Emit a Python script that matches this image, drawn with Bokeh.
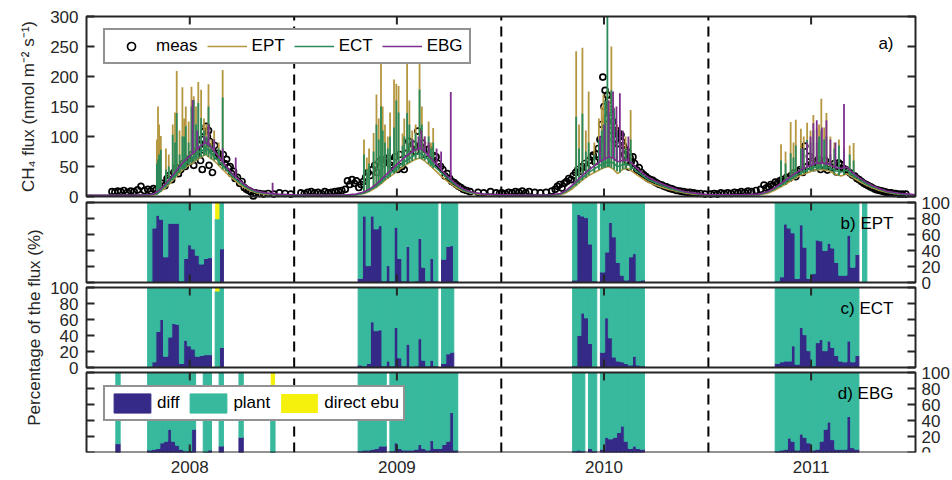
from math import pi
from bokeh.plotting import figure
from bokeh.models import (Range1d, LinearAxis, FixedTicker, Legend, LegendItem,
                          Label, BoxAnnotation, ColumnDataSource)
from bokeh.core.properties import value
from bokeh.embed import file_html
from bokeh.resources import INLINE

# ---------------- data (x = days since 2008-01-01) ----------------
year_ticks = [182, 547, 912, 1277]
year_labels = ["2008", "2009", "2010", "2011"]
year_breaks = [366, 731, 1096]
flux_ticks = [0, 50, 100, 150, 200, 250, 300]
pct_ticks = [0, 20, 40, 60, 80, 100]

# measured flux
meas_day_2008 = [45, 50, 55, 60, 66, 72, 78, 84, 90, 96, 102, 108, 113, 118, 123, 128, 133, 138, 142, 146,
                 150, 154, 158, 162, 166, 170, 174, 178, 182, 186, 189, 192, 195, 198, 201, 203, 204, 205, 207, 209,
                 211, 213, 215, 216, 217, 220, 222, 223, 226, 229, 232, 235, 238, 241, 244, 247, 250, 253, 256, 259,
                 262, 266, 270, 274, 278, 282, 286, 290, 294, 298, 305, 312, 320, 330, 340, 350, 360]
meas_val_2008 = [8, 7, 9, 8, 10, 7, 9, 8, 11, 17, 10, 12, 9, 13, 11, 15, 22, 18, 30, 35,
                 28, 40, 48, 38, 45, 55, 50, 62, 58, 70, 52, 75, 68, 85, 60, 95, 45, 78, 108, 88,
                 117, 100, 110, 52, 92, 80, 40, 75, 85, 68, 72, 65, 58, 70, 55, 62, 48, 50, 38, 42,
                 30, 32, 22, 25, 15, 12, 10, 8, 1, 6, 5, 4, 5, 4, 6, 5, 4]
meas_day_2009 = [378, 384, 390, 396, 402, 408, 414, 420, 426, 432, 438, 444, 450, 456, 460, 464, 468, 472, 476, 480,
                 484, 488, 492, 496, 500, 504, 508, 512, 516, 520, 524, 528, 532, 536, 540, 544, 548, 552, 556, 560,
                 564, 568, 572, 576, 580, 584, 588, 592, 596, 600, 604, 608, 612, 616, 620, 624, 628, 632, 636, 640,
                 644, 648, 652, 656, 660, 664, 670, 676, 690, 700, 712, 722, 728]
meas_val_2009 = [6, 5, 7, 8, 6, 7, 5, 8, 6, 7, 8, 9, 10, 12, 26, 20, 28, 22, 26, 15,
                 20, 25, 32, 40, 35, 45, 52, 40, 58, 62, 55, 60, 64, 52, 48, 66, 45, 70, 50, 45,
                 72, 92, 80, 87, 75, 109, 85, 89, 70, 78, 79, 62, 68, 66, 55, 50, 45, 34, 38, 30,
                 25, 23, 20, 17, 15, 12, 10, 8, 7, 6, 8, 6, 5]
meas_day_2010 = [732, 738, 744, 750, 756, 762, 768, 774, 780, 790, 800, 810, 820, 826, 830, 834, 838, 842, 846, 850,
                 854, 858, 862, 866, 870, 874, 878, 882, 886, 890, 893, 896, 899, 902, 905, 908, 910, 912, 914, 916,
                 918, 920, 922, 924, 926, 928, 930, 932, 934, 936, 938, 940, 942, 944, 946, 948, 950, 952, 954, 956,
                 958, 960, 963, 966, 970, 974, 978, 982, 986, 990, 994, 998, 1002, 1006, 1010, 1014, 1018, 1022, 1026, 1030,
                 1034, 1040, 1046, 1052, 1058, 1064, 1070, 1076, 1082, 1090]
meas_val_2010 = [6, 5, 7, 6, 8, 7, 9, 6, 8, 7, 6, 7, 9, 12, 17, 20, 14, 22, 25, 30,
                 28, 35, 40, 45, 42, 50, 55, 48, 60, 66, 69, 58, 70, 80, 95, 120, 199, 150, 177, 130,
                 169, 160, 140, 145, 110, 125, 95, 107, 110, 88, 105, 100, 103, 91, 85, 70, 78, 60, 74, 49,
                 65, 58, 66, 55, 44, 48, 40, 36, 33, 30, 28, 27, 24, 22, 20, 19, 17, 16, 14, 13,
                 12, 10, 9, 8, 7, 7, 6, 5, 5, 4]
meas_day_2011 = [1100, 1106, 1112, 1118, 1124, 1130, 1136, 1142, 1148, 1154, 1160, 1166, 1172, 1180, 1188, 1194, 1198, 1202, 1206, 1210,
                 1214, 1218, 1222, 1226, 1230, 1234, 1238, 1242, 1246, 1250, 1254, 1258, 1262, 1266, 1270, 1274, 1278, 1282, 1286, 1290,
                 1294, 1298, 1302, 1306, 1310, 1314, 1318, 1322, 1326, 1330, 1334, 1338, 1342, 1346, 1350, 1354, 1358, 1362, 1366, 1370,
                 1374, 1378, 1382, 1386, 1390, 1394, 1398, 1402, 1406, 1410, 1414, 1418, 1422, 1426, 1432, 1438, 1444]
meas_val_2011 = [4, 5, 4, 6, 5, 6, 5, 7, 6, 8, 7, 9, 8, 10, 12, 19, 14, 16, 20, 18,
                 24, 22, 26, 28, 25, 32, 30, 35, 39, 33, 42, 45, 40, 84, 50, 67, 55, 48, 58, 62,
                 45, 52, 60, 44, 50, 48, 55, 41, 56, 53, 47, 45, 42, 39, 36, 34, 30, 28, 25, 22,
                 20, 18, 16, 14, 12, 11, 10, 9, 8, 7, 6, 6, 5, 5, 4, 4, 4]

# modelled flux, smooth part (shared day grid)
base_day = [0, 40, 80, 110, 120, 130, 140, 150, 160, 170, 180, 190, 200, 210, 215, 222, 230, 240, 250, 260, 270, 280, 290, 300, 315, 335, 366,
            420, 460, 475, 490, 500, 510, 520, 530, 540, 550, 560, 570, 580, 588, 595, 605, 615, 625, 635, 645, 655, 665, 680, 700, 731,
            780, 820, 835, 845, 855, 865, 875, 885, 895, 905, 912, 920, 928, 936, 945, 953, 960, 970, 980, 990, 1000, 1012, 1025, 1040, 1055, 1070, 1085, 1100,
            1150, 1185, 1200, 1212, 1224, 1236, 1248, 1260, 1272, 1284, 1296, 1308, 1320, 1330, 1340, 1350, 1362, 1374, 1386, 1398, 1410, 1422, 1435, 1450, 1461]
ept_base = [1, 1, 1, 2, 3, 8, 15, 25, 35, 45, 52, 58, 65, 70, 66, 62, 55, 45, 36, 28, 20, 14, 9, 6, 4, 3, 2,
            1, 2, 3, 5, 9, 15, 22, 30, 37, 44, 51, 57, 62, 64, 60, 52, 43, 34, 26, 19, 13, 9, 5, 3, 2,
            1, 2, 3, 6, 12, 20, 28, 35, 40, 45, 48, 50, 46, 38, 45, 47, 43, 36, 30, 24, 20, 16, 12, 9, 6, 4, 3, 2,
            2, 3, 5, 10, 16, 23, 30, 36, 40, 44, 45, 43, 37, 34, 38, 32, 25, 19, 14, 10, 7, 5, 4, 3, 2]
ect_base = [2, 2, 2, 3, 4, 10, 19, 29, 40, 51, 59, 66, 75, 80, 77, 71, 62, 52, 41, 31, 23, 16, 11, 7, 5, 3, 2,
            2, 2, 3, 6, 11, 17, 26, 34, 42, 50, 58, 64, 70, 72, 68, 59, 49, 40, 31, 23, 16, 10, 6, 4, 2,
            2, 2, 4, 8, 15, 24, 32, 40, 46, 52, 55, 58, 56, 50, 53, 54, 50, 42, 35, 28, 24, 19, 14, 10, 7, 5, 3, 2,
            2, 3, 7, 12, 19, 27, 34, 40, 45, 49, 50, 48, 43, 41, 44, 36, 28, 21, 16, 12, 8, 6, 4, 3, 2]
ebg_base = [2, 2, 2, 3, 5, 12, 22, 33, 45, 57, 66, 74, 84, 90, 86, 80, 70, 58, 46, 35, 27, 19, 13, 9, 6, 4, 3,
            2, 3, 4, 8, 13, 20, 29, 38, 47, 56, 65, 72, 78, 80, 76, 66, 55, 45, 35, 26, 18, 12, 7, 4, 3,
            2, 3, 5, 10, 18, 27, 36, 44, 51, 58, 62, 66, 64, 58, 60, 61, 56, 47, 39, 32, 27, 22, 17, 12, 8, 6, 4, 3,
            3, 4, 8, 14, 22, 30, 38, 45, 50, 55, 56, 54, 48, 47, 49, 40, 31, 24, 18, 13, 9, 7, 5, 4, 3]

# modelled flux, daily peaks (EPT and ECT share dates); spk_lo = level the peak rises from
spk_day = [124, 126, 128, 131, 140, 145, 152, 156, 159, 164, 169, 172, 175, 180, 185, 189, 193, 197, 202, 207, 211, 215, 220, 225, 233, 240,
           489, 494, 498, 506, 511, 515, 519, 522, 526, 531, 535, 542, 546, 550, 557, 560, 565, 569, 574, 580, 587, 591, 596, 603, 607, 611,
           863, 868, 874, 880, 885, 895, 903, 908, 911, 914, 918, 921, 925, 930, 935, 940, 945, 950, 959,
           1224, 1232, 1241, 1246, 1250, 1259, 1264, 1270, 1276, 1281, 1287, 1291, 1295, 1300, 1304, 1311, 1318, 1326, 1335, 1345, 1352]
spk_lo = [3, 4, 6, 8, 15, 20, 27, 31, 34, 40, 44, 46, 48, 52, 55, 58, 60, 63, 66, 68, 69, 66, 62, 60, 52, 45,
          5, 7, 8, 13, 15, 18, 21, 24, 27, 30, 33, 38, 41, 44, 49, 51, 54, 56, 59, 62, 63, 62, 60, 54, 51, 47,
          18, 22, 27, 31, 35, 40, 44, 46, 48, 48, 49, 49, 48, 45, 42, 40, 45, 46, 44,
          16, 20, 26, 29, 31, 36, 38, 40, 42, 43, 44, 45, 45, 45, 44, 42, 38, 35, 36, 35, 31]
ept_spk = [95, 150, 120, 101, 80, 70, 120, 140, 209, 110, 182, 130, 150, 125, 183, 167, 150, 191, 178, 130, 120, 187, 95, 110, 90, 211,
           95, 65, 80, 106, 170, 130, 225, 150, 120, 100, 140, 195, 188, 184, 105, 130, 222, 160, 110, 120, 225, 150, 100, 125, 90, 114,
           242, 120, 248, 110, 175, 90, 130, 150, 170, 130, 180, 160, 250, 140, 120, 110, 90, 100, 144,
           87, 75, 124, 90, 128, 113, 100, 123, 110, 136, 113, 120, 163, 115, 139, 100, 90, 95, 80, 85, 89]
ect_spk = [55, 62, 70, 78, 45, 50, 103, 90, 139, 70, 100, 100, 117, 90, 150, 161, 120, 156, 131, 110, 100, 150, 85, 95, 80, 165,
           70, 45, 55, 75, 120, 95, 150, 110, 90, 80, 100, 115, 160, 140, 85, 100, 139, 120, 95, 105, 178, 120, 85, 100, 80, 90,
           133, 80, 138, 75, 90, 70, 95, 110, 120, 160, 300, 140, 177, 145, 110, 100, 80, 80, 95,
           60, 55, 72, 65, 85, 80, 80, 94, 90, 110, 90, 100, 110, 95, 100, 70, 80, 85, 75, 70, 60]
ebg_spk_day = [187, 195, 208, 215, 225, 240, 263, 328,
               575, 585, 590, 596, 603, 617, 625, 642,
               905, 913, 920, 928, 934, 940, 945, 955,
               1262, 1270, 1276, 1281, 1287, 1296, 1304, 1311, 1320, 1335]
ebg_spk_lo = [72, 80, 89, 86, 78, 58, 33, 4,
              74, 78, 79, 75, 69, 53, 45, 29,
              58, 62, 66, 64, 59, 58, 60, 60,
              46, 50, 52, 54, 55, 56, 55, 53, 48, 48]
ebg_spk = [161, 110, 100, 120, 95, 80, 65, 23,
           95, 100, 110, 100, 90, 80, 75, 174,
           100, 120, 160, 175, 150, 172, 110, 100,
           80, 90, 100, 122, 127, 115, 127, 95, 90, 154]

# weekly flux partitioning (%), week n spans days 3+7n .. 10+7n
ept_week = [15, 16, 17, 18, 19, 20, 21, 22, 23, 24, 25, 26, 27, 28, 29, 30, 32, 33,
            68, 69, 70, 71, 72, 73, 74, 75, 76, 77, 78, 79, 80, 81, 82, 83, 84, 85, 86, 87, 89, 90, 91, 92,
            122, 123, 124, 125, 126, 127, 129, 130, 131, 132, 133, 134, 135, 136, 137, 138, 139,
            173, 174, 175, 176, 177, 178, 179, 180, 181, 182, 183, 184, 185, 186, 187, 188, 189, 190, 191, 192, 193, 195]
ept_diff = [0, 68, 84, 79, 32, 74, 74, 74, 2, 30, 47, 42, 34, 23, 30, 31, 0, 42,
            5, 83, 21, 83, 67, 71, 2, 21, 2, 69, 30, 2, 45, 1, 2, 55, 19, 2, 30, 2, 29, 45, 46, 2,
            3, 85, 83, 81, 48, 2, 13, 38, 75, 57, 25, 9, 3, 32, 36, 2, 3,
            2, 7, 73, 68, 62, 5, 72, 44, 5, 11, 53, 52, 40, 49, 43, 25, 9, 9, 59, 19, 35, 0]
ept_plant = [100, 32, 16, 21, 68, 26, 26, 26, 98, 70, 53, 58, 66, 77, 70, 69, 79, 58,
             95, 17, 79, 17, 33, 29, 98, 79, 98, 31, 70, 98, 55, 99, 98, 45, 81, 98, 70, 98, 71, 55, 54, 98,
             97, 15, 17, 19, 52, 98, 87, 62, 25, 43, 75, 91, 97, 68, 64, 98, 97,
             98, 93, 27, 32, 38, 95, 28, 56, 95, 89, 47, 48, 60, 51, 57, 75, 91, 91, 41, 81, 65, 100]
ept_ebu = [0, 0, 0, 0, 0, 0, 0, 0, 0, 0, 0, 0, 0, 0, 0, 0, 21, 0,
           0, 0, 0, 0, 0, 0, 0, 0, 0, 0, 0, 0, 0, 0, 0, 0, 0, 0, 0, 0, 0, 0, 0, 0,
           0, 0, 0, 0, 0, 0, 0, 0, 0, 0, 0, 0, 0, 0, 0, 0, 0,
           0, 0, 0, 0, 0, 0, 0, 0, 0, 0, 0, 0, 0, 0, 0, 0, 0, 0, 0, 0, 0, 0]

ect_week = [15, 16, 17, 18, 19, 20, 21, 22, 23, 24, 25, 26, 27, 28, 29, 30, 32, 33,
            68, 69, 70, 71, 72, 73, 74, 75, 76, 77, 78, 79, 80, 81, 82, 83, 84, 85, 86, 87, 89, 90, 91,
            122, 123, 124, 125, 126, 127, 129, 130, 131, 132, 133, 134, 135, 136, 137, 138, 139,
            173, 174, 175, 176, 177, 178, 179, 180, 181, 182, 183, 184, 185, 186, 187, 188, 189, 190, 191, 192, 193]
ect_diff = [0, 7, 45, 60, 14, 38, 55, 54, 5, 34, 27, 23, 14, 15, 16, 16, 0, 25,
            3, 2, 5, 57, 46, 47, 2, 8, 2, 50, 12, 2, 29, 1, 2, 36, 9, 2, 9, 2, 5, 17, 19,
            2, 40, 68, 62, 30, 1, 19, 62, 37, 13, 8, 7, 5, 3, 14, 3, 2,
            5, 7, 8, 8, 27, 4, 50, 41, 21, 2, 31, 35, 21, 33, 25, 15, 8, 7, 33, 7, 15]
ect_plant = [100, 93, 55, 40, 86, 62, 45, 46, 95, 66, 73, 77, 86, 85, 84, 84, 95, 75,
             97, 98, 95, 43, 54, 53, 98, 92, 98, 50, 88, 98, 71, 99, 98, 64, 91, 98, 91, 98, 95, 83, 81,
             98, 60, 32, 38, 70, 99, 81, 38, 63, 87, 92, 93, 95, 97, 86, 97, 98,
             95, 93, 92, 92, 73, 96, 50, 59, 79, 98, 69, 65, 79, 67, 75, 85, 92, 93, 67, 93, 85]
ect_ebu = [0, 0, 0, 0, 0, 0, 0, 0, 0, 0, 0, 0, 0, 0, 0, 0, 5, 0,
           0, 0, 0, 0, 0, 0, 0, 0, 0, 0, 0, 0, 0, 0, 0, 0, 0, 0, 0, 0, 0, 0, 0,
           0, 0, 0, 0, 0, 0, 0, 0, 0, 0, 0, 0, 0, 0, 0, 0, 0,
           0, 0, 0, 0, 0, 0, 0, 0, 0, 0, 0, 0, 0, 0, 0, 0, 0, 0, 0, 0, 0]

ebg_week = [7, 15, 16, 17, 18, 19, 20, 21, 22, 23, 24, 25, 26, 29, 30, 33, 38, 46,
            68, 69, 70, 71, 72, 73, 74, 76, 77, 78, 79, 80, 81, 82, 83, 84, 85, 86, 87, 88, 89, 90, 91, 92,
            122, 123, 124, 126, 127, 129, 130, 131, 132, 133, 134, 135, 136, 137, 138, 139,
            173, 174, 175, 176, 177, 178, 179, 180, 181, 182, 183, 184, 185, 186, 187, 188, 189, 190, 191, 192, 193]
ebg_diff = [11, 3, 4, 5, 12, 14, 29, 14, 9, 4, 2, 2, 29, 0, 3, 8, 19, 0,
            2, 3, 3, 4, 5, 8, 8, 2, 12, 5, 3, 3, 3, 4, 10, 5, 3, 15, 5, 5, 10, 14, 50, 3,
            2, 3, 2, 5, 2, 4, 19, 17, 19, 25, 33, 14, 5, 8, 5, 4,
            2, 3, 4, 18, 14, 3, 23, 19, 12, 3, 4, 14, 29, 38, 16, 4, 4, 4, 45, 6, 4]
ebg_plant = [89, 97, 96, 95, 88, 86, 71, 86, 91, 96, 98, 98, 71, 100, 97, 92, 81, 80,
             98, 97, 97, 96, 95, 92, 92, 98, 88, 95, 97, 97, 97, 96, 90, 95, 97, 85, 95, 95, 90, 86, 50, 97,
             98, 97, 98, 95, 98, 96, 81, 83, 81, 75, 67, 86, 95, 92, 95, 96,
             98, 97, 96, 82, 86, 97, 77, 81, 88, 97, 96, 86, 71, 62, 84, 96, 96, 96, 55, 94, 96]
ebg_ebu = [0, 0, 0, 0, 0, 0, 0, 0, 0, 0, 0, 0, 0, 0, 0, 0, 0, 20,
           0, 0, 0, 0, 0, 0, 0, 0, 0, 0, 0, 0, 0, 0, 0, 0, 0, 0, 0, 0, 0, 0, 0, 0,
           0, 0, 0, 0, 0, 0, 0, 0, 0, 0, 0, 0, 0, 0, 0, 0,
           0, 0, 0, 0, 0, 0, 0, 0, 0, 0, 0, 0, 0, 0, 0, 0, 0, 0, 0, 0, 0]

# ---------------- style / layout ----------------
FONT = "Liberation Sans"
INK = "#262626"
C_EPT, C_ECT, C_EBG = "#B5973F", "#2A8A5A", "#7E2F8E"
C_DIFF, C_PLANT, C_EBU = "#352A87", "#38B99E", "#F5F10C"
FS = "17px"

W, H = 952, 480
AX_L, AX_R = 86, 915          # pixel columns of the panels' left/right edges
FT, FB = 0, 452               # frame top / bottom in pixels
X0, X1 = 0, 1461              # day range shown by the panels
dpp = (X1 - X0) / (AX_R - AX_L)
panels = {"a": (0, 300, 16, 196), "b": (0, 100, 202, 282),
          "c": (0, 100, 287, 367), "d": (0, 100, 372, 452)}

p = figure(width=W, height=H,
           x_range=Range1d(X0 - AX_L * dpp, X1 + (W - AX_R) * dpp),
           y_range=Range1d(FB, FT),
           x_axis_type=None, y_axis_type=None, output_backend="svg", toolbar_location=None,
           min_border_left=0, min_border_right=0, min_border_top=FT, min_border_bottom=H - FB)
p.outline_line_color = None
p.background_fill_color = "white"
p.border_fill_color = "white"

ranges = {}
for k, (vmin, vmax, top, bot) in panels.items():
    u = (vmax - vmin) / (bot - top)
    ranges[k] = Range1d(vmin - (FB - bot) * u, vmax + (top - FT) * u)
p.extra_y_ranges = ranges

# ---- bars (slightly overlapping so no seams show) ----
def bars(week, diff, plant, ebu, k):
    src = ColumnDataSource(dict(x=[6.5 + 7 * n for n in week], diff=diff, plant=plant, ebu=ebu))
    return p.vbar_stack(["diff", "plant", "ebu"], x="x", width=7.6, source=src, y_range_name=k,
                        fill_color=[C_DIFF, C_PLANT, C_EBU], line_color=[C_DIFF, C_PLANT, None],
                        line_width=1.0)

bars(ept_week, ept_diff, ept_plant, ept_ebu, "b")
bars(ect_week, ect_diff, ect_plant, ect_ebu, "c")
bar_r = bars(ebg_week, ebg_diff, ebg_plant, ebg_ebu, "d")

# ---- dashed year separators ----
for k, (vmin, vmax, top, bot) in panels.items():
    p.segment(x0=year_breaks, y0=vmin, x1=year_breaks, y1=vmax, line_color="black",
              line_width=2, line_dash="10 6", y_range_name=k)

# ---- panel a ----
meas_day = meas_day_2008 + meas_day_2009 + meas_day_2010 + meas_day_2011
meas_val = meas_val_2008 + meas_val_2009 + meas_val_2010 + meas_val_2011
r_meas = p.scatter(meas_day, meas_val, marker="circle", size=6, fill_color=None,
                   line_color="black", line_width=1.7, y_range_name="a")
LW = 1.6
r_ept = p.line(base_day, ept_base, line_color=C_EPT, line_width=LW, y_range_name="a")
p.segment(x0=spk_day, y0=spk_lo, x1=spk_day, y1=ept_spk, line_color=C_EPT, line_width=1.8, y_range_name="a")
r_ect = p.line(base_day, ect_base, line_color=C_ECT, line_width=LW, y_range_name="a")
p.segment(x0=spk_day, y0=spk_lo, x1=spk_day, y1=ect_spk, line_color=C_ECT, line_width=1.8, y_range_name="a")
r_ebg = p.line(base_day, ebg_base, line_color=C_EBG, line_width=LW, y_range_name="a")
p.segment(x0=ebg_spk_day, y0=ebg_spk_lo, x1=ebg_spk_day, y1=ebg_spk, line_color=C_EBG, line_width=1.8, y_range_name="a")

# ---- tick marks (inward, on every panel edge) ----
TICK = 8
for k, (vmin, vmax, top, bot) in panels.items():
    u = (vmax - vmin) / (bot - top)
    p.segment(x0=year_ticks, y0=vmin, x1=year_ticks, y1=vmin + TICK * u,
              line_color=INK, line_width=2, y_range_name=k)
    p.segment(x0=year_ticks, y0=vmax, x1=year_ticks, y1=vmax - TICK * u,
              line_color=INK, line_width=2, y_range_name=k)

tick_sets = [("a", flux_ticks), ("b", pct_ticks), ("c", pct_ticks), ("d", pct_ticks)]
for k, vals in tick_sets:
    p.segment(x0=X0, y0=vals, x1=X0 + TICK * dpp, y1=vals, line_color=INK, line_width=2, y_range_name=k)
    p.segment(x0=X1, y0=vals, x1=X1 - TICK * dpp, y1=vals, line_color=INK, line_width=2, y_range_name=k)
    if k in ("a", "c"):
        p.text(x=X0, y=vals, text=[str(v) for v in vals], x_offset=-8, text_align="right",
               text_baseline="middle", text_font=value(FONT), text_font_size=value(FS),
               text_color=INK, y_range_name=k)
    else:
        p.text(x=X1, y=vals, text=[str(v) for v in vals], x_offset=6, text_align="left",
               text_baseline="middle", text_font=value(FONT), text_font_size=value(FS),
               text_color=INK, y_range_name=k)

# ---- panel boxes ----
for k, (vmin, vmax, top, bot) in panels.items():
    p.add_layout(BoxAnnotation(left=X0, right=X1, bottom=vmin, top=vmax, y_range_name=k,
                               fill_color=None, fill_alpha=0, line_color=INK, line_alpha=1,
                               line_width=2))

# ---- x axis labels ----
xax = LinearAxis(ticker=FixedTicker(ticks=year_ticks),
                 major_label_overrides=dict(zip(year_ticks, year_labels)))
xax.axis_line_color = None
xax.major_tick_line_color = None
xax.major_tick_in = 0
xax.major_tick_out = 0
xax.minor_tick_line_color = None
xax.major_label_standoff = 8
xax.major_label_text_font = FONT
xax.major_label_text_font_size = FS
xax.major_label_text_color = INK
p.add_layout(xax, "below")

# ---- titles and panel labels ----
p.add_layout(Label(x=X0, y=150, y_range_name="a", x_offset=-58, angle=pi / 2,
                   text="CH\u2084 flux (nmol m\u207b\u00b2 s\u207b\u00b9)",
                   text_align="center", text_baseline="middle", text_font=FONT,
                   text_font_size=FS, text_color=INK))
p.add_layout(Label(x=X0, y=50, y_range_name="c", x_offset=-52, angle=pi / 2,
                   text="Percentage of the flux (%)",
                   text_align="center", text_baseline="middle", text_font=FONT,
                   text_font_size=FS, text_color=INK))
for txt, yy in [("a)", 43), ("b) EPT", 223), ("c) ECT", 308), ("d) EBG", 393)]:
    p.add_layout(Label(x=X1, y=yy, x_offset=-22, text=txt, text_align="right",
                       text_baseline="middle", text_font=FONT, text_font_size=FS, text_color="black"))

# ---- legends ----
leg1 = Legend(items=[LegendItem(label="meas", renderers=[r_meas]),
                     LegendItem(label="EPT", renderers=[r_ept]),
                     LegendItem(label="ECT", renderers=[r_ect]),
                     LegendItem(label="EBG", renderers=[r_ebg])],
              orientation="horizontal", location=(103, FB - 64),
              glyph_width=40, glyph_height=20, label_standoff=5, spacing=9, padding=6, margin=0,
              label_text_font=FONT, label_text_font_size=FS, label_text_color="black",
              border_line_color=INK, border_line_width=2, background_fill_color="white",
              background_fill_alpha=1)
leg2 = Legend(items=[LegendItem(label="diff", renderers=[bar_r[0]]),
                     LegendItem(label="plant", renderers=[bar_r[1]]),
                     LegendItem(label="direct ebu", renderers=[bar_r[2]])],
              orientation="horizontal", location=(103, FB - 421),
              glyph_width=46, glyph_height=24, label_standoff=2, spacing=6, padding=4, margin=0,
              label_text_font=FONT, label_text_font_size=FS, label_text_color="black",
              border_line_color=INK, border_line_width=2, background_fill_color="white",
              background_fill_alpha=1)
p.add_layout(leg1)
p.add_layout(leg2)

open("out.html", "w").write(file_html(p, INLINE))
